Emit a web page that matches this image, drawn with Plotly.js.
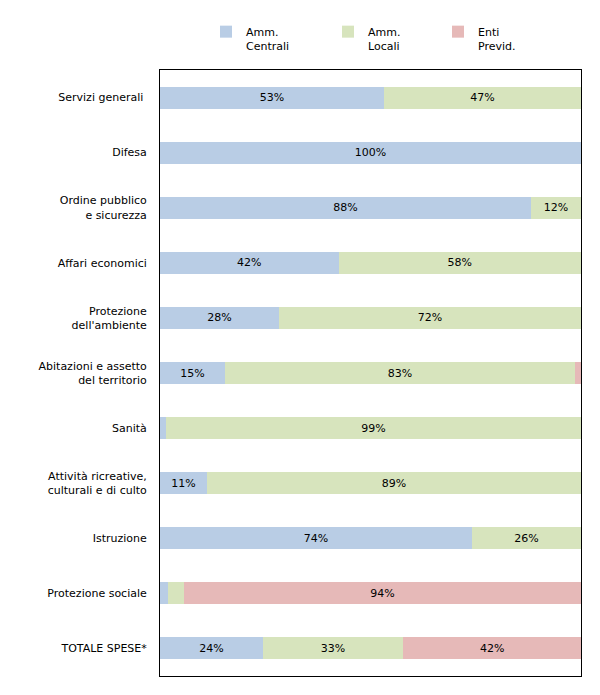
<!DOCTYPE html>
<html><head><meta charset="utf-8">
<script src="https://cdn.plot.ly/plotly-3.0.1.min.js"></script>
<style>body{margin:0;background:#fff}#c{width:600px;height:695px}</style>
</head><body><div id="c"></div>
<script>
const categories = ["Servizi generali ", "Difesa", "Ordine pubblico<br>e sicurezza", "Affari economici",
  "Protezione<br>dell'ambiente", "Abitazioni e assetto<br>del territorio", "Sanità",
  "Attività ricreative,<br>culturali e di culto", "Istruzione", "Protezione sociale", "TOTALE SPESE*"];
const seriesNames = ["Amm.<br>Centrali", "Amm.<br>Locali", "Enti<br>Previd."];
const ammCentrali = [53.2, 100, 88.1, 42.4, 28.3, 15.4, 1.4, 11.2, 74.1, 1.9, 24.4];
const ammLocali   = [46.8, 0, 11.9, 57.6, 71.7, 83.2, 98.6, 88.8, 25.9, 3.8, 33.4];
const entiPrevid  = [0, 0, 0, 0, 0, 1.4, 0, 0, 0, 94.3, 42.2];
const colors = ["#b9cde5", "#d7e4bd", "#e6b9b8"];
const legendIds = ["legend", "legend2", "legend3"];

const labelFor = v => v >= 10 ? Math.round(v) + "%" : "";
const traces = [ammCentrali, ammLocali, entiPrevid].map((vals, i) => ({
  type: "bar", orientation: "h", name: seriesNames[i], y: categories, x: vals,
  legend: legendIds[i],
  marker: {color: colors[i], line: {width: 0}},
  text: vals.map(labelFor), textposition: "inside", insidetextanchor: "middle",
  textfont: {family: "DejaVu Sans", size: 11, color: "#000"},
  constraintext: "none", hoverinfo: "skip"
}));

const legendXs = [206, 328, 438];
const layout = {
  width: 600, height: 695,
  margin: {l: 160, r: 19, t: 70, b: 19, autoexpand: false},
  barmode: "stack", bargap: 0.6,
  paper_bgcolor: "#fff", plot_bgcolor: "#fff",
  font: {family: "DejaVu Sans", size: 11, color: "#000"},
  showlegend: true,
  xaxis: {range: [0, 100], showticklabels: false, showgrid: false, zeroline: false,
    showline: true, mirror: true, linecolor: "#000", linewidth: 1, ticks: ""},
  yaxis: {autorange: "reversed", showgrid: false, zeroline: false, showline: true, mirror: true,
    linecolor: "#000", linewidth: 1, ticks: "", ticklabelstandoff: 10,
    tickfont: {family: "DejaVu Sans", size: 11, color: "#000"}}
};
legendIds.forEach((id, i) => {
  layout[id] = {xref: "container", yref: "container", x: legendXs[i] / 600, xanchor: "left",
    y: 1 - 18 / 695, yanchor: "top", valign: "top", itemwidth: 30, bgcolor: "rgba(0,0,0,0)",
    font: {family: "DejaVu Sans", size: 11, color: "#000"}};
});
Plotly.newPlot("c", traces, layout, {staticPlot: true});
</script></body></html>
